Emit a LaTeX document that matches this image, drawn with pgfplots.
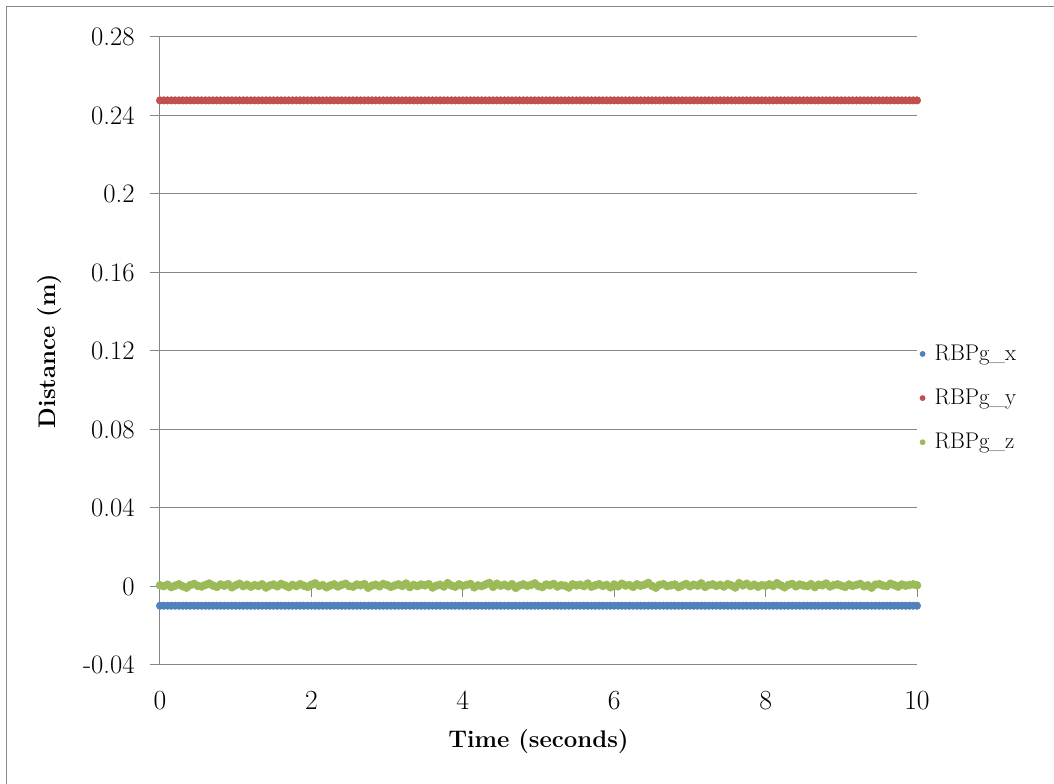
\documentclass[border=0pt]{standalone}
\usepackage{pgfplots}
\pgfplotsset{compat=1.18}
\usepackage{pgfplotstable}
\definecolor{cx}{HTML}{4F81BD}
\definecolor{cy}{HTML}{C0504D}
\definecolor{cz}{HTML}{9BBB59}
\definecolor{gridgray}{HTML}{868686}
\pgfplotstableread{
t x y z
0 -0.0098 0.2477 0.0006
0.05 -0.0098 0.2477 0.0002
0.1 -0.0098 0.2477 0.0009
0.15 -0.0098 0.2477 -0.0003
0.2 -0.0098 0.2477 0.0004
0.25 -0.0098 0.2477 0.0011
0.3 -0.0098 0.2477 0.0001
0.35 -0.0098 0.2477 -0.0006
0.4 -0.0098 0.2477 0.0007
0.45 -0.0098 0.2477 0.0013
0.5 -0.0098 0.2477 0.0003
0.55 -0.0098 0.2477 0.0000
0.6 -0.0098 0.2477 0.0008
0.65 -0.0098 0.2477 0.0015
0.7 -0.0098 0.2477 0.0005
0.75 -0.0098 0.2477 -0.0002
0.8 -0.0098 0.2477 0.0010
0.85 -0.0098 0.2477 0.0004
0.9 -0.0098 0.2477 0.0012
0.95 -0.0098 0.2477 -0.0004
1 -0.0098 0.2477 0.0006
1.05 -0.0098 0.2477 0.0014
1.1 -0.0098 0.2477 0.0002
1.15 -0.0098 0.2477 0.0009
1.2 -0.0098 0.2477 -0.0001
1.25 -0.0098 0.2477 0.0007
1.3 -0.0098 0.2477 0.0003
1.35 -0.0098 0.2477 0.0011
1.4 -0.0098 0.2477 -0.0005
1.45 -0.0098 0.2477 0.0005
1.5 -0.0098 0.2477 0.0010
1.55 -0.0098 0.2477 0.0001
1.6 -0.0098 0.2477 0.0013
1.65 -0.0098 0.2477 0.0006
1.7 -0.0098 0.2477 -0.0003
1.75 -0.0098 0.2477 0.0008
1.8 -0.0098 0.2477 0.0002
1.85 -0.0098 0.2477 0.0012
1.9 -0.0098 0.2477 0.0004
1.95 -0.0098 0.2477 -0.0002
2 -0.0098 0.2477 0.0009
2.05 -0.0098 0.2477 0.0016
2.1 -0.0098 0.2477 0.0003
2.15 -0.0098 0.2477 0.0007
2.2 -0.0098 0.2477 -0.0004
2.25 -0.0098 0.2477 0.0005
2.3 -0.0098 0.2477 0.0011
2.35 -0.0098 0.2477 0.0000
2.4 -0.0098 0.2477 0.0008
2.45 -0.0098 0.2477 0.0014
2.5 -0.0098 0.2477 0.0002
2.55 -0.0098 0.2477 -0.0001
2.6 -0.0098 0.2477 0.0010
2.65 -0.0098 0.2477 0.0006
2.7 -0.0098 0.2477 0.0012
2.75 -0.0098 0.2477 -0.0006
2.8 -0.0098 0.2477 0.0004
2.85 -0.0098 0.2477 0.0009
2.9 -0.0098 0.2477 0.0001
2.95 -0.0098 0.2477 0.0013
3 -0.0098 0.2477 0.0007
3.05 -0.0098 0.2477 -0.0002
3.1 -0.0098 0.2477 0.0005
3.15 -0.0098 0.2477 0.0011
3.2 -0.0098 0.2477 0.0003
3.25 -0.0098 0.2477 0.0015
3.3 -0.0098 0.2477 -0.0003
3.35 -0.0098 0.2477 0.0008
3.4 -0.0098 0.2477 0.0002
3.45 -0.0098 0.2477 0.0010
3.5 -0.0098 0.2477 0.0006
3.55 -0.0098 0.2477 0.0012
3.6 -0.0098 0.2477 -0.0005
3.65 -0.0098 0.2477 0.0004
3.7 -0.0098 0.2477 0.0009
3.75 -0.0098 0.2477 0.0000
3.8 -0.0098 0.2477 0.0017
3.85 -0.0098 0.2477 0.0005
3.9 -0.0098 0.2477 -0.0001
3.95 -0.0098 0.2477 0.0011
4 -0.0098 0.2477 0.0003
4.05 -0.0098 0.2477 0.0008
4.1 -0.0098 0.2477 0.0013
4.15 -0.0098 0.2477 -0.0004
4.2 -0.0098 0.2477 0.0006
4.25 -0.0098 0.2477 0.0002
4.3 -0.0098 0.2477 0.0010
4.35 -0.0098 0.2477 0.0018
4.4 -0.0098 0.2477 -0.0002
4.45 -0.0098 0.2477 0.0014
4.5 -0.0098 0.2477 0.0004
4.55 -0.0098 0.2477 0.0009
4.6 -0.0098 0.2477 0.0001
4.65 -0.0098 0.2477 0.0012
4.7 -0.0098 0.2477 -0.0007
4.75 -0.0098 0.2477 0.0005
4.8 -0.0098 0.2477 0.0011
4.85 -0.0098 0.2477 0.0003
4.9 -0.0098 0.2477 0.0008
4.95 -0.0098 0.2477 0.0016
5 -0.0098 0.2477 0.0002
5.05 -0.0098 0.2477 -0.0003
5.1 -0.0098 0.2477 0.0010
5.15 -0.0098 0.2477 0.0006
5.2 -0.0098 0.2477 0.0013
5.25 -0.0098 0.2477 0.0000
5.3 -0.0098 0.2477 0.0007
5.35 -0.0098 0.2477 0.0004
5.4 -0.0098 0.2477 -0.0005
5.45 -0.0098 0.2477 0.0011
5.5 -0.0098 0.2477 0.0005
5.55 -0.0098 0.2477 0.0009
5.6 -0.0098 0.2477 0.0002
5.65 -0.0098 0.2477 0.0015
5.7 -0.0098 0.2477 -0.0001
5.75 -0.0098 0.2477 0.0006
5.8 -0.0098 0.2477 0.0012
5.85 -0.0098 0.2477 0.0003
5.9 -0.0098 0.2477 0.0008
5.95 -0.0098 0.2477 -0.0004
6 -0.0098 0.2477 0.0010
6.05 -0.0098 0.2477 0.0001
6.1 -0.0098 0.2477 0.0014
6.15 -0.0098 0.2477 0.0005
6.2 -0.0098 0.2477 0.0007
6.25 -0.0098 0.2477 -0.0002
6.3 -0.0098 0.2477 0.0011
6.35 -0.0098 0.2477 0.0004
6.4 -0.0098 0.2477 0.0009
6.45 -0.0098 0.2477 0.0018
6.5 -0.0098 0.2477 0.0003
6.55 -0.0098 0.2477 -0.0006
6.6 -0.0098 0.2477 0.0008
6.65 -0.0098 0.2477 0.0012
6.7 -0.0098 0.2477 0.0002
6.75 -0.0098 0.2477 0.0006
6.8 -0.0098 0.2477 0.0010
6.85 -0.0098 0.2477 -0.0003
6.9 -0.0098 0.2477 0.0005
6.95 -0.0098 0.2477 0.0013
7 -0.0098 0.2477 0.0001
7.05 -0.0098 0.2477 0.0009
7.1 -0.0098 0.2477 0.0004
7.15 -0.0098 0.2477 0.0016
7.2 -0.0098 0.2477 -0.0002
7.25 -0.0098 0.2477 0.0007
7.3 -0.0098 0.2477 0.0011
7.35 -0.0098 0.2477 0.0003
7.4 -0.0098 0.2477 0.0008
7.45 -0.0098 0.2477 0.0000
7.5 -0.0098 0.2477 0.0012
7.55 -0.0098 0.2477 0.0005
7.6 -0.0098 0.2477 -0.0005
7.65 -0.0098 0.2477 0.0017
7.7 -0.0098 0.2477 0.0006
7.75 -0.0098 0.2477 0.0014
7.8 -0.0098 0.2477 0.0002
7.85 -0.0098 0.2477 0.0009
7.9 -0.0098 0.2477 -0.0001
7.95 -0.0098 0.2477 0.0007
8 -0.0098 0.2477 0.0004
8.05 -0.0098 0.2477 0.0011
8.1 -0.0098 0.2477 0.0003
8.15 -0.0098 0.2477 0.0017
8.2 -0.0098 0.2477 0.0006
8.25 -0.0098 0.2477 -0.0004
8.3 -0.0098 0.2477 0.0008
8.35 -0.0098 0.2477 0.0013
8.4 -0.0098 0.2477 0.0001
8.45 -0.0098 0.2477 0.0010
8.5 -0.0098 0.2477 0.0005
8.55 -0.0098 0.2477 0.0002
8.6 -0.0098 0.2477 0.0012
8.65 -0.0098 0.2477 -0.0003
8.7 -0.0098 0.2477 0.0009
8.75 -0.0098 0.2477 0.0006
8.8 -0.0098 0.2477 0.0015
8.85 -0.0098 0.2477 0.0000
8.9 -0.0098 0.2477 0.0007
8.95 -0.0098 0.2477 0.0011
9 -0.0098 0.2477 0.0004
9.05 -0.0098 0.2477 -0.0002
9.1 -0.0098 0.2477 0.0010
9.15 -0.0098 0.2477 0.0003
9.2 -0.0098 0.2477 0.0008
9.25 -0.0098 0.2477 0.0013
9.3 -0.0098 0.2477 0.0001
9.35 -0.0098 0.2477 0.0006
9.4 -0.0098 0.2477 -0.0006
9.45 -0.0098 0.2477 0.0009
9.5 -0.0098 0.2477 0.0012
9.55 -0.0098 0.2477 0.0005
9.6 -0.0098 0.2477 0.0002
9.65 -0.0098 0.2477 0.0014
9.7 -0.0098 0.2477 0.0007
9.75 -0.0098 0.2477 -0.0001
9.8 -0.0098 0.2477 0.0010
9.85 -0.0098 0.2477 0.0004
9.9 -0.0098 0.2477 0.0008
9.95 -0.0098 0.2477 0.0011
10 -0.0098 0.2477 0.0006
}\data
\begin{document}
\begin{tikzpicture}[font=\fontsize{18}{21}\selectfont]
\begin{axis}[
  at={(0,0)}, anchor=south west,
  scale only axis, width=567.75pt, height=471pt,
  xmin=0, xmax=10, ymin=-0.04, ymax=0.28,
  xtick={0,2,4,6,8,10},
  ytick={-0.04,0,0.04,0.08,0.12,0.16,0.2,0.24,0.28},
  yticklabels={-0.04,0,0.04,0.08,0.12,0.16,0.2,0.24,0.28},
  axis lines*=left,
  axis line style={gridgray, line width=0.75pt, -},
  ymajorgrids,
  grid style={gridgray, line width=0.75pt},
  xtick style={draw=none},
  ytick style={gridgray, line width=0.75pt},
  tick align=outside,
  major tick length=7.5pt,
  xticklabel style={font=\fontsize{20}{23}\selectfont, yshift=-9pt},
  yticklabel style={font=\fontsize{20}{23}\selectfont, xshift=-8pt},
  xlabel={Time (seconds)},
  ylabel={Distance (m)},
  xlabel style={font=\fontsize{18}{21}\selectfont\bfseries, at={(axis description cs:0.5,-0.1226)}, anchor=center},
  ylabel style={font=\fontsize{18}{21}\selectfont\bfseries, at={(axis description cs:-0.1453,0.5)}, anchor=center, rotate=0},
  legend style={at={(axis description cs:1,0.425)}, anchor=west, draw=none, fill=none,
    font=\fontsize{17}{20}\selectfont, row sep=16pt, inner sep=0pt},
  legend cell align=left,
  legend image code/.code={\fill[draw=none] (4pt,0pt) circle (2.2pt); \path[draw=none] (0pt,0pt) -- (11pt,0pt);},
  clip=false,
]
\pgfplotsinvokeforeach{2,4,6,8,10}{\draw[gridgray, line width=0.75pt] (axis cs:#1,0) -- (axis cs:#1,-0.0052);}
\addplot[only marks, mark=*, color=cx, mark size=2.8pt, mark options={draw=none, fill=cx}] table[x=t, y=x] {\data};
\addlegendentry{RBPg\_x}
\addplot[only marks, mark=*, color=cy, mark size=2.8pt, mark options={draw=none, fill=cy}] table[x=t, y=y] {\data};
\addlegendentry{RBPg\_y}
\addplot[only marks, mark=*, color=cz, mark size=3pt, mark options={draw=none, fill=cz}] table[x=t, y=z] {\data};
\addlegendentry{RBPg\_z}
\end{axis}
\draw[gridgray, line width=0.75pt] (-114.75pt,-150pt) rectangle (720pt,493.5pt);
\pgfresetboundingbox
\path[use as bounding box] (-120pt,-89.25pt) rectangle (670.5pt,498.75pt);
\end{tikzpicture}
\end{document}
